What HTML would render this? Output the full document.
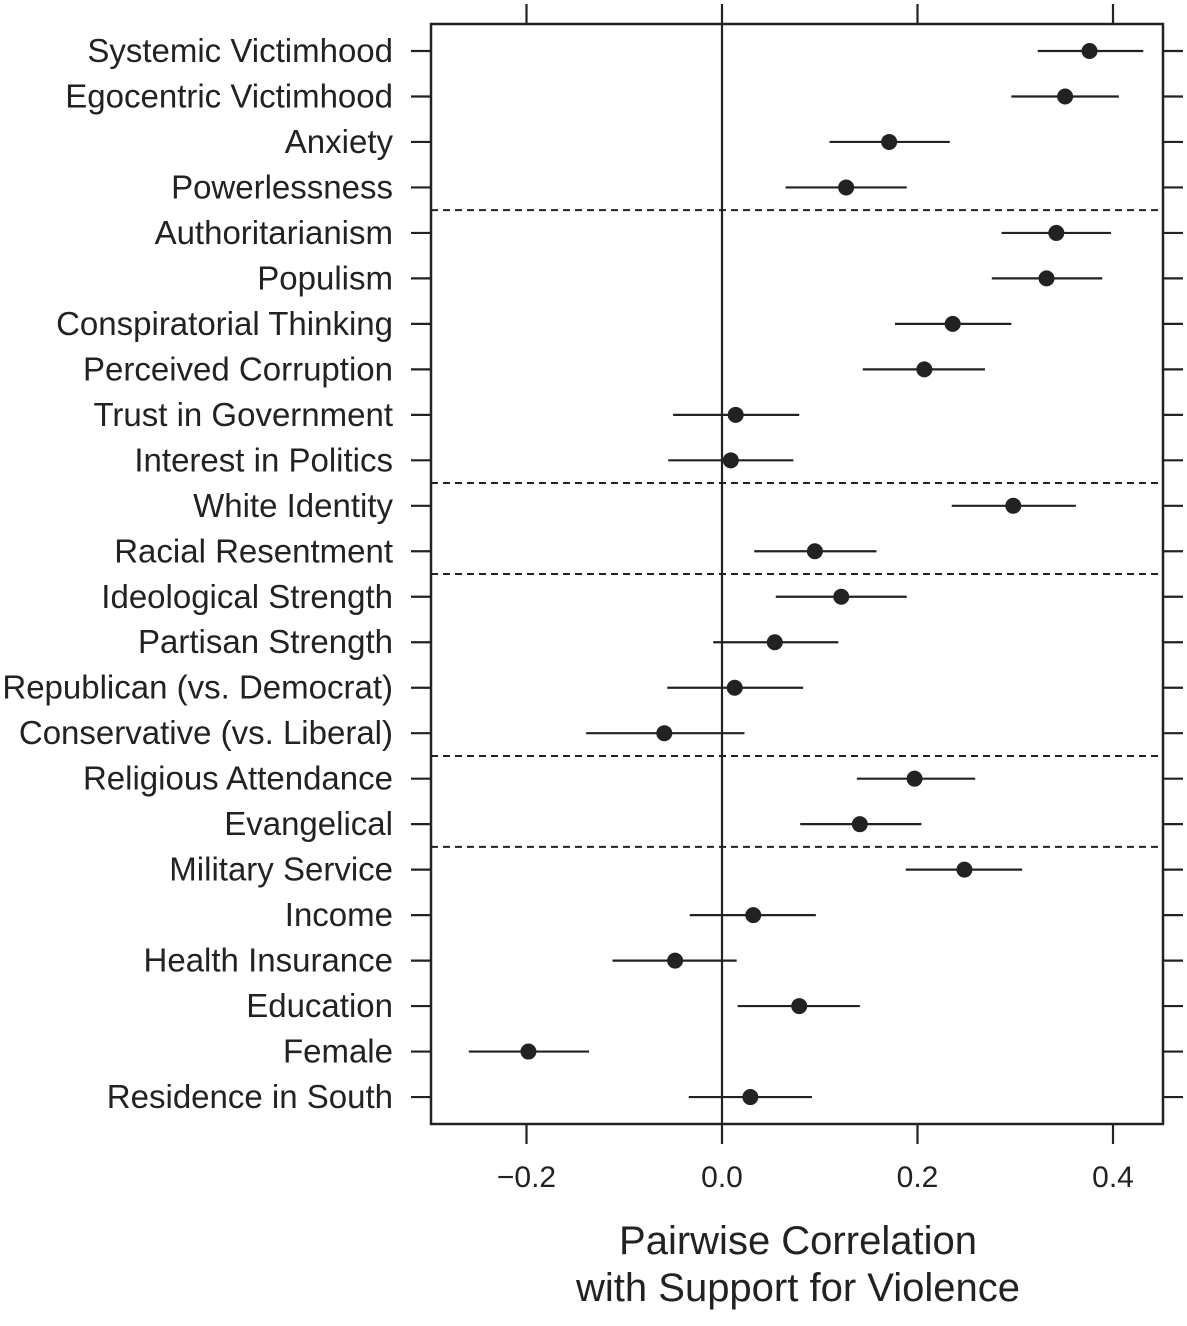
<!DOCTYPE html>
<html><head><meta charset="utf-8"><style>body{margin:0;background:#fff}svg text{font-family:"Liberation Sans",sans-serif;fill:#222}</style></head>
<body>
<svg id="chart" width="1187" height="1321" xmlns="http://www.w3.org/2000/svg"></svg>
<script>
const labels=["Systemic Victimhood","Egocentric Victimhood","Anxiety","Powerlessness","Authoritarianism","Populism","Conspiratorial Thinking","Perceived Corruption","Trust in Government","Interest in Politics","White Identity","Racial Resentment","Ideological Strength","Partisan Strength","Republican (vs. Democrat)","Conservative (vs. Liberal)","Religious Attendance","Evangelical","Military Service","Income","Health Insurance","Education","Female","Residence in South"];
const estimates=[0.376,0.351,0.171,0.127,0.342,0.332,0.236,0.207,0.014,0.009,0.298,0.095,0.122,0.054,0.013,-0.059,0.197,0.141,0.248,0.032,-0.048,0.079,-0.198,0.029];
const lower=[0.323,0.296,0.110,0.065,0.286,0.276,0.177,0.144,-0.050,-0.055,0.235,0.033,0.055,-0.009,-0.056,-0.139,0.138,0.080,0.188,-0.033,-0.112,0.016,-0.259,-0.034];
const upper=[0.431,0.406,0.233,0.189,0.398,0.389,0.296,0.269,0.079,0.073,0.362,0.158,0.189,0.119,0.083,0.023,0.259,0.204,0.307,0.096,0.015,0.141,-0.136,0.092];
const groupBreaks=[4,10,12,16,18];
const xTicks=[-0.2,0,0.2,0.4];
const xTickLabels=["\u22120.2","0.0","0.2","0.4"];
const svg=document.getElementById('chart');const NS="http://www.w3.org/2000/svg";
const L=431,R=1163,T=24,B=1124;
const x=v=>722+v*977.5;
const y=i=>51+i*45.48;
function mk(t,a,p){const e=document.createElementNS(NS,t);for(const k in a)e.setAttribute(k,a[k]);(p||svg).appendChild(e);return e;}
let box=mk('rect',{x:L,y:T,width:R-L,height:B-T,fill:'none',stroke:'#222','stroke-width':2.5});


let z=mk('line',{x1:x(0),x2:x(0),y1:T,y2:B,stroke:'#222','stroke-width':2.2});


groupBreaks.forEach(g=>{const yy=(y(g-1)+y(g))/2;const d=mk('line',{x1:L,x2:R,y1:yy,y2:yy,stroke:'#222','stroke-width':2,'stroke-dasharray':'7,5'});

});
xTicks.forEach((v,i)=>{const xx=x(v);
mk('line',{x1:xx,x2:xx,y1:4,y2:T,stroke:'#222','stroke-width':2.2});
mk('line',{x1:xx,x2:xx,y1:B,y2:1144,stroke:'#222','stroke-width':2.2});
const t=mk('text',{x:xx,y:1187,'font-size':30,'text-anchor':'middle'});t.textContent=xTickLabels[i];

});
labels.forEach((lab,i)=>{const yy=y(i);
mk('line',{x1:411,x2:L,y1:yy,y2:yy,stroke:'#222','stroke-width':2.2});
mk('line',{x1:R,x2:1183,y1:yy,y2:yy,stroke:'#222','stroke-width':2.2});
const t=mk('text',{x:393,y:yy+11,'font-size':33,'text-anchor':'end'});t.textContent=lab;


const ci=mk('line',{x1:x(lower[i]),x2:x(upper[i]),y1:yy,y2:yy,stroke:'#222','stroke-width':2.2});


const p=mk('circle',{cx:x(estimates[i]),cy:yy,r:8,fill:'#222'});

});
const t1=mk('text',{x:798,y:1254,'font-size':40,'text-anchor':'middle'});t1.textContent="Pairwise Correlation";


const t2=mk('text',{x:798,y:1301,'font-size':40,'text-anchor':'middle'});t2.textContent="with Support for Violence";


</script>
</body></html>
